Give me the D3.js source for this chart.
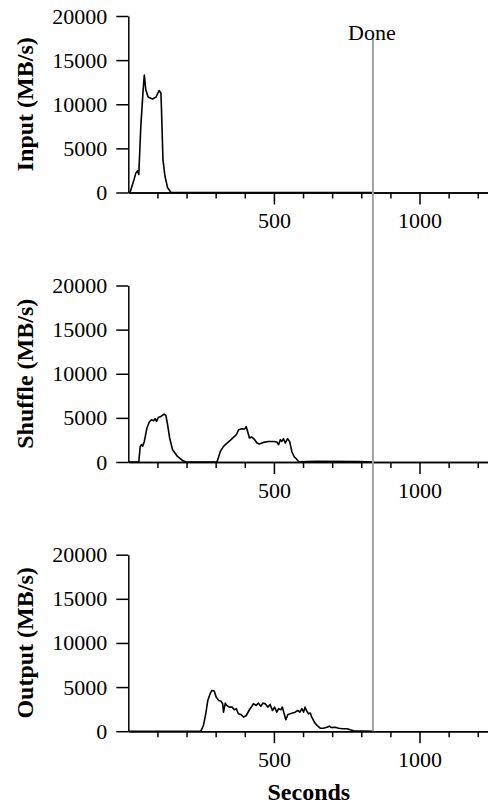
<!DOCTYPE html>
<html>
<head>
<meta charset="utf-8">
<script src="https://cdn.jsdelivr.net/npm/d3@7"></script>
<style>
  body { margin: 0; background: #fff; }
  svg { display: block; font-family: "Liberation Serif", "DejaVu Serif", serif; }
</style>
</head>
<body>
<div id="chart"></div>
<script>
// seconds / MB/s
const inputT = [0, 6, 20, 26, 32, 36, 43, 51, 55, 60, 68, 83, 95, 106, 112, 114, 119, 126, 135, 146, 200, 840]
const inputV = [0, 0, 1500, 2220, 2450, 2030, 7500, 11640, 13300, 11640, 10810, 10590, 10810, 11560, 11270, 9380, 3730, 1840, 530, 30, 0, 0]

const shuffleT = [0, 36, 41, 45, 49, 55, 64, 72, 80, 87, 92, 97, 103, 112, 123, 129, 135, 142, 152, 169, 186, 198, 304,
  306, 316, 327, 339, 350, 361, 371, 379, 390, 399, 405, 409, 416, 424, 432, 442, 450, 464, 481, 499, 510, 516, 522,
  527, 533, 539, 547, 554, 562, 570, 577, 585, 650, 790, 840]
const shuffleV = [0, 0, 1770, 1960, 1770, 2330, 3850, 4530, 4790, 4680, 4900, 4600, 5050, 5160, 5430, 5280, 4220, 2720, 1390, 630, 180, 0, 0,
  150, 1200, 1770, 2150, 2450, 2790, 3090, 3660, 3770, 3740, 4000, 3540, 2720, 2830, 2600, 2150, 2040, 2220, 2330, 2330, 2260, 1960, 2530,
  2330, 2640, 2150, 2640, 2330, 1130, 570, 370, 30, 80, 60, 0]

const outputT = [0, 249, 258, 266, 273, 281, 287, 295, 302, 310, 318, 324, 327, 333, 338, 347, 356, 364, 371, 378, 387, 396, 405,
  416, 430, 439, 447, 455, 462, 470, 479, 487, 495, 502, 510, 516, 524, 529, 536, 541, 548, 556, 564, 573, 582, 589, 596,
  602, 607, 613, 619, 625, 630, 639, 648, 659, 670, 682, 690, 697, 711, 722, 736, 751, 762, 774, 840]
const outputV = [0, 0, 650, 1970, 3490, 4250, 4620, 4550, 3860, 3490, 3410, 3110, 2160, 3180, 2920, 2730, 2730, 2430, 2550, 1970, 1900, 1590, 1780,
  2430, 3110, 2920, 3180, 2810, 3180, 3110, 2730, 3030, 2350, 2730, 2160, 2550, 2430, 2730, 1900, 1300, 1900, 1970, 2050, 2160, 2350, 2160, 2550,
  2160, 2730, 2270, 1970, 2050, 1590, 1020, 650, 340, 340, 450, 570, 420, 450, 340, 270, 270, 160, 50, 0]

const panelNames = ['Input (MB/s)', 'Shuffle (MB/s)', 'Output (MB/s)']
const yTicks = [0, 5000, 10000, 15000, 20000]
const xMinorTicks = [100, 200, 300, 400, 600, 700, 800, 900, 1100, 1200]
const xMajorTicks = [500, 1000]
const doneTime = 840

const series = [
  inputT.map((t, i) => [t, inputV[i]]),
  shuffleT.map((t, i) => [t, shuffleV[i]]),
  outputT.map((t, i) => [t, outputV[i]])
]

const width = 488, height = 805
const panelTop = [16, 285.5, 554.7]
const panelH = 176.5
const serif = '"Liberation Serif", "DejaVu Serif", serif'

const svg = d3.select('#chart').append('svg')
  .attr('width', width)
  .attr('height', height)

const x = d3.scaleLinear().domain([0, 1240]).range([128.3, 489.4])

panelTop.forEach((top, i) => {
  const y = d3.scaleLinear().domain([0, 20000]).range([top + panelH, top])
  const g = svg.append('g')

  // x axis, minor then major ticks
  g.append('g')
    .attr('transform', `translate(0,${y(0)})`)
    .call(d3.axisBottom(x).tickValues(xMinorTicks).tickSize(6).tickSizeOuter(0).tickFormat(''))
  g.append('g')
    .attr('transform', `translate(0,${y(0)})`)
    .call(d3.axisBottom(x).tickValues(xMajorTicks).tickSize(12).tickSizeOuter(0).tickPadding(8).tickFormat(d3.format('d')))

  g.append('g')
    .attr('transform', `translate(${x(0)},0)`)
    .call(d3.axisLeft(y).tickValues(yTicks).tickSize(12).tickSizeOuter(0).tickPadding(9).tickFormat(d3.format('d')))

  g.selectAll('g').attr('font-family', serif).attr('font-size', 22)
  g.selectAll('.domain, .tick line').attr('stroke', '#000').attr('stroke-width', 1.5)
  g.selectAll('.tick text')
    .attr('fill', '#000')
    .style('font-family', serif)
    .style('font-size', '22px')

  g.append('text')
    .attr('transform', `translate(33,${top + panelH / 2}) rotate(-90)`)
    .attr('text-anchor', 'middle')
    .attr('font-size', '24px')
    .attr('font-weight', 'bold')
    .text(panelNames[i])

  g.append('path')
    .datum(series[i])
    .attr('fill', 'none')
    .attr('stroke', '#000')
    .attr('stroke-width', 1.6)
    .attr('stroke-linejoin', 'round')
    .attr('d', d3.line().x(d => x(d[0])).y(d => y(d[1])))
})

// done marker across all panels
svg.append('line')
  .attr('x1', x(doneTime)).attr('x2', x(doneTime))
  .attr('y1', 39).attr('y2', panelTop[2] + panelH)
  .attr('stroke', '#a0a0a0')
  .attr('stroke-width', 2)

svg.append('text')
  .attr('x', x(doneTime) - 1)
  .attr('y', 40)
  .attr('text-anchor', 'middle')
  .attr('font-size', '22px')
  .text('Done')

svg.append('text')
  .attr('x', (x.range()[0] + x.range()[1]) / 2)
  .attr('y', 800)
  .attr('text-anchor', 'middle')
  .attr('font-size', '24px')
  .attr('font-weight', 'bold')
  .text('Seconds')
</script>
</body>
</html>
